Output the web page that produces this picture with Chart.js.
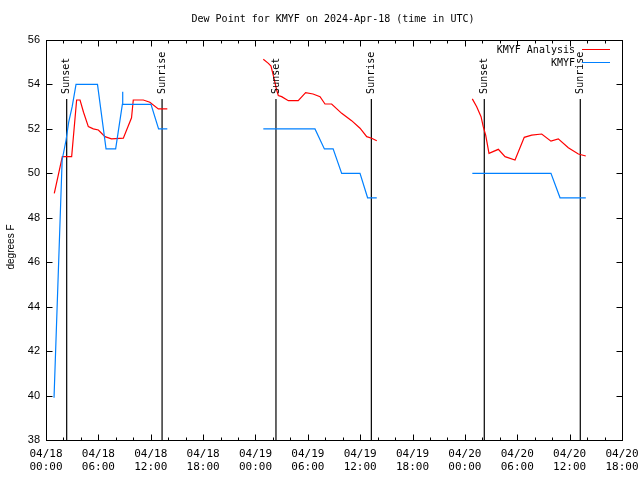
<!DOCTYPE html>
<html>
<head>
<meta charset="utf-8">
<script src="https://cdn.jsdelivr.net/npm/chart.js@4/dist/chart.umd.min.js"></script>
<style>
body { margin: 0; background: #fff; }
canvas { display: block; }
</style>
</head>
<body>
<canvas id="dewChart" width="640" height="480"></canvas>
<script>
// hours since 04/18 00:00 UTC, null = gap between days
var analysisHours = [0.95, 1.87, 2.94, 3.51, 3.9, 4.3, 4.85, 5.42, 6.0, 6.76, 7.5, 8.86, 9.8, 10.0, 11.15, 11.9, 12.87, 13.9,
    19,
    24.9, 25.48, 25.78, 26.05, 26.43, 26.62, 27.0, 27.77, 28.9, 29.75, 30.6, 31.4, 31.97, 32.73, 33.88, 35.02, 35.98, 36.75, 37.32, 37.9,
    43,
    48.85, 49.35, 49.85, 50.1, 50.38, 50.76, 51.83, 52.6, 53.74, 54.8, 55.65, 56.8, 57.86, 58.7, 59.85, 61.0, 61.85];
var analysisDew = [49.1, 50.75, 50.75, 53.3, 53.3, 52.75, 52.1, 52.0, 51.95, 51.65, 51.55, 51.58, 52.5, 53.3, 53.3, 53.2, 52.9, 52.9,
    null,
    55.13, 54.95, 54.83, 54.4, 53.75, 53.5, 53.45, 53.27, 53.27, 53.63, 53.57, 53.45, 53.12, 53.12, 52.7, 52.37, 52.03, 51.65, 51.58, 51.47,
    null,
    53.35, 53.0, 52.55, 52.1, 51.72, 50.9, 51.08, 50.75, 50.6, 51.62, 51.72, 51.77, 51.45, 51.55, 51.15, 50.87, 50.78];

var obsHours = [0.92, 1.85, 2.3, 2.6, 3.0, 3.44, 5.9, 6.88, 7.98, 8.75, 8.78, 8.8, 12.03, 12.9, 13.9,
    19,
    24.9, 30.82, 31.9, 32.9, 33.88, 35.98, 36.85, 37.9,
    43,
    48.85, 57.86, 58.9, 61.85];
var obsDew = [39.9, 50.6, 51.5, 52.3, 53.0, 54.0, 54.0, 51.1, 51.1, 53.1, 53.67, 53.1, 53.1, 52.0, 52.0,
    null,
    52.0, 52.0, 51.1, 51.1, 50.0, 50.0, 48.9, 48.9,
    null,
    50.0, 50.0, 48.9, 48.9];

var sunsetHours = [2.37, 26.35, 50.22];
var sunriseHours = [13.3, 37.28, 61.22];
var sunLineTop = 53.35;

var dayLabels = ['04/18', '04/19', '04/20'];
var hourLabels = ['00:00', '06:00', '12:00', '18:00'];

function toPoints(xs, ys) {
    var pts = [];
    for (var i = 0; i < xs.length; i++) pts.push({ x: xs[i], y: ys[i] });
    return pts;
}

var datasets = [
    { label: 'KMYF Analysis', data: toPoints(analysisHours, analysisDew), borderColor: '#ff0000', order: 2 },
    { label: 'KMYF', data: toPoints(obsHours, obsDew), borderColor: '#0080ff', order: 1 }
];
sunsetHours.concat(sunriseHours).forEach(function (h) {
    datasets.push({ label: 'sun', data: [{ x: h, y: 38 }, { x: h, y: sunLineTop }], borderColor: '#000000', order: 3 });
});
datasets.forEach(function (d) {
    d.borderWidth = 1.2;
    d.pointRadius = 0;
    d.tension = 0;
    d.spanGaps = false;
    d.fill = false;
});

// gnuplot style frame, inward tics, labels, legend and title
var gnuplotFrame = {
    id: 'gnuplotFrame',
    afterDraw: function (chart) {
        var c = chart.ctx, a = chart.chartArea;
        var xs = chart.scales.x, ys = chart.scales.y;
        var L = Math.round(a.left) + 0.5, R = Math.round(a.right) + 0.5;
        var T = Math.round(a.top) + 0.5, B = Math.round(a.bottom) + 0.5;
        c.save();
        c.strokeStyle = '#000';
        c.lineWidth = 1;
        c.strokeRect(L, T, R - L, B - T);
        c.beginPath();
        for (var v = 38; v <= 56; v += 2) {
            var py = Math.round(ys.getPixelForValue(v)) + 0.5;
            c.moveTo(L, py); c.lineTo(L + 6, py);
            c.moveTo(R, py); c.lineTo(R - 6, py);
        }
        for (var h = 0; h <= 66; h += 2) {
            var px = Math.round(xs.getPixelForValue(h)) + 0.5;
            var len = h % 6 === 0 ? 6 : 3;
            c.moveTo(px, B); c.lineTo(px, B - len);
            c.moveTo(px, T); c.lineTo(px, T + len);
        }
        c.stroke();

        c.fillStyle = '#000';
        c.font = '10px "DejaVu Sans Mono"';
        c.textBaseline = 'middle';

        // sunset / sunrise labels
        var labelY = ys.getPixelForValue(sunLineTop) - 5;
        function sunLabel(h, txt) {
            c.save();
            c.translate(xs.getPixelForValue(h), labelY);
            c.rotate(-Math.PI / 2);
            c.textAlign = 'left';
            c.fillText(txt, 0, 0);
            c.restore();
        }
        sunsetHours.forEach(function (h) { sunLabel(h, 'Sunset'); });
        sunriseHours.forEach(function (h) { sunLabel(h, 'Sunrise'); });

        // legend
        c.textAlign = 'right';
        [0, 1].forEach(function (i) {
            var ds = chart.data.datasets[i];
            var ly = 50 + i * 13;
            c.fillStyle = '#000';
            c.fillText(ds.label, 575, ly);
            c.strokeStyle = ds.borderColor;
            c.beginPath();
            c.moveTo(582, ly - 0.5);
            c.lineTo(610, ly - 0.5);
            c.stroke();
        });

        // title
        c.fillStyle = '#000';
        c.textAlign = 'center';
        c.fillText('Dew Point for KMYF on 2024-Apr-18 (time in UTC)', 333, 19);

        // y label
        c.save();
        c.translate(11, 247);
        c.rotate(-Math.PI / 2);
        c.font = '10px "Liberation Sans"';
        c.fillText('degrees F', 0, 0);
        c.restore();
        c.restore();
    }
};

var ctx = document.getElementById('dewChart').getContext('2d');
var dewChart = new Chart(ctx, {
    type: 'line',
    data: { datasets: datasets },
    options: {
        responsive: false,
        animation: false,
        devicePixelRatio: 1,
        layout: { padding: { top: 40, right: 18, left: 0, bottom: 0 } },
        plugins: {
            legend: { display: false },
            tooltip: { enabled: false },
            title: { display: false }
        },
        scales: {
            x: {
                type: 'linear',
                min: 0,
                max: 66,
                grid: { display: false, drawTicks: false },
                border: { display: false },
                ticks: {
                    stepSize: 6,
                    autoSkip: false,
                    maxRotation: 0,
                    padding: 8,
                    color: '#000',
                    font: { family: 'DejaVu Sans Mono', size: 11, lineHeight: 1.15 },
                    callback: function (value) {
                        return [dayLabels[Math.floor(value / 24)], hourLabels[(value % 24) / 6]];
                    }
                },
                afterFit: function (s) {
                    s.height = 40;
                    s.paddingLeft = 0;
                    s.paddingRight = 0;
                }
            },
            y: {
                min: 38,
                max: 56,
                grid: { display: false, drawTicks: false },
                border: { display: false },
                ticks: {
                    stepSize: 2,
                    padding: 6,
                    color: '#000',
                    font: { family: 'Liberation Sans', size: 11 }
                },
                afterFit: function (s) {
                    s.width = 46;
                    s.paddingTop = 0;
                    s.paddingBottom = 0;
                }
            }
        }
    },
    plugins: [gnuplotFrame]
});
</script>
</body>
</html>
